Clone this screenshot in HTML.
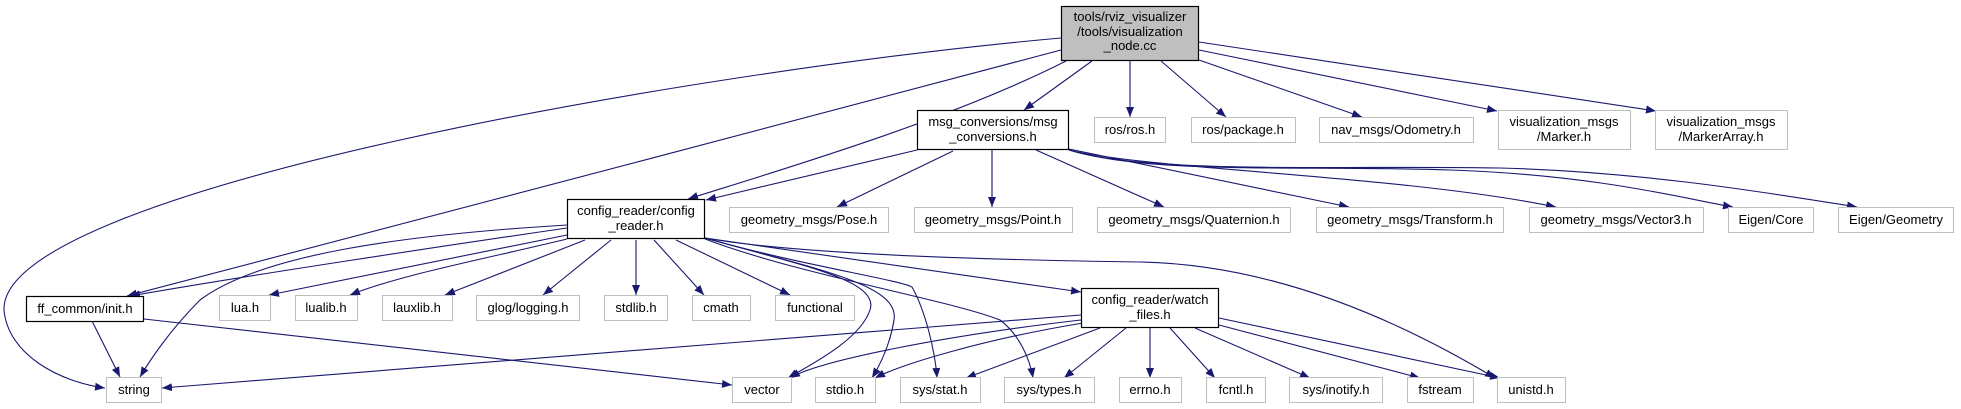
<!DOCTYPE html>
<html><head><meta charset="utf-8"><style>
html,body{margin:0;padding:0;background:#fff;width:1961px;height:409px;overflow:hidden}
svg{display:block}
text{font-family:"Liberation Sans",Arial,sans-serif;font-size:13px;fill:#000}
.e{fill:none;stroke:#191970;stroke-width:1.1}
.n{fill:#fff;stroke:#000;stroke-width:1.2}
.g{fill:#fff;stroke:#bfbfbf;stroke-width:1}
</style></head><body>
<svg width="1961" height="409" viewBox="0 0 1961 409" xmlns="http://www.w3.org/2000/svg">
<defs><marker id="a" viewBox="0 0 10 8" refX="10" refY="4" markerWidth="10" markerHeight="8" markerUnits="userSpaceOnUse" orient="auto"><path d="M0,0 L10,4 L0,8 z" fill="#191970"/></marker></defs>
<g marker-end="url(#a)">
<!-- root edges -->
<path class="e" d="M1061,38 C700,70 0,190 4,310 C8,355 60,382 105,388"/>
<path class="e" d="M1061,50 C800,120 300,250 127,296"/>
<path class="e" d="M1066,61 C950,120 780,170 688,199"/>
<path class="e" d="M1092,61 L1024,110"/>
<path class="e" d="M1130,61 L1130,117"/>
<path class="e" d="M1161,61 L1226,117"/>
<path class="e" d="M1199,60 L1362,117"/>
<path class="e" d="M1199,50 L1497,111"/>
<path class="e" d="M1199,42 L1656,111"/>
<!-- msg_conversions -->
<path class="e" d="M917,150 L706,200"/>
<path class="e" d="M953,151 L837,207"/>
<path class="e" d="M992,150 L992,207"/>
<path class="e" d="M1036,150 L1164,207"/>
<path class="e" d="M1069,149 L1349,207"/>
<path class="e" d="M1069,150 C1150,170 1400,175 1556,207"/>
<path class="e" d="M1069,150 C1150,175 1300,165 1450,170 C1600,175 1690,200 1733,207"/>
<path class="e" d="M1069,150 C1150,175 1350,165 1500,168 C1650,172 1780,195 1857,207"/>
<!-- config_reader -->
<path class="e" d="M567,228 C450,245 250,275 130,296"/>
<path class="e" d="M567,225 C400,235 260,255 200,300 C170,330 150,360 140,377"/>
<path class="e" d="M567,235 L269,295"/>
<path class="e" d="M567,239 C480,260 400,275 350,295"/>
<path class="e" d="M585,240 L445,295"/>
<path class="e" d="M611,240 L543,295"/>
<path class="e" d="M636,240 L636,295"/>
<path class="e" d="M654,240 L704,295"/>
<path class="e" d="M676,240 L790,295"/>
<path class="e" d="M705,238 C800,265 880,280 870,310 C860,340 810,365 788,378"/>
<path class="e" d="M705,238 C820,270 900,285 894,320 C890,345 880,365 872,378"/>
<path class="e" d="M705,238 C800,265 900,280 912,287 C925,310 935,350 937,378"/>
<path class="e" d="M705,239 C800,275 950,300 1000,320 C1020,335 1030,360 1033,378"/>
<path class="e" d="M705,238 L1081,292"/>
<path class="e" d="M705,238 C800,255 1000,260 1140,262 C1300,265 1440,345 1495,378"/>
<!-- watch_files -->
<path class="e" d="M1081,315 L162,388"/>
<path class="e" d="M1081,320 C950,335 820,360 790,378"/>
<path class="e" d="M1083,323 C980,340 900,365 875,378"/>
<path class="e" d="M1100,328 L966,378"/>
<path class="e" d="M1126,328 L1064,378"/>
<path class="e" d="M1150,328 L1150,378"/>
<path class="e" d="M1170,328 L1215,378"/>
<path class="e" d="M1195,328 L1310,378"/>
<path class="e" d="M1219,325 L1420,378"/>
<path class="e" d="M1219,318 L1500,378"/>
<!-- ff_common -->
<path class="e" d="M92,321 L120,377"/>
<path class="e" d="M144,319 L732,385"/>
</g>
<!-- nodes -->
<rect x="1061.5" y="6.5" width="137" height="54" fill="#bfbfbf" stroke="#000" stroke-width="1.2"/>
<text x="1130" y="21" text-anchor="middle">tools/rviz_visualizer</text>
<text x="1130" y="36" text-anchor="middle">/tools/visualization</text>
<text x="1130" y="50" text-anchor="middle">_node.cc</text>

<rect class="n" x="917.5" y="110.5" width="151" height="39"/>
<text x="993" y="126" text-anchor="middle">msg_conversions/msg</text>
<text x="993" y="141" text-anchor="middle">_conversions.h</text>

<rect class="g" x="1094.5" y="117.5" width="71" height="25"/><text x="1130" y="134" text-anchor="middle">ros/ros.h</text>
<rect class="g" x="1191.5" y="117.5" width="104" height="25"/><text x="1243" y="134" text-anchor="middle">ros/package.h</text>
<rect class="g" x="1319.5" y="117.5" width="154" height="25"/><text x="1396" y="134" text-anchor="middle">nav_msgs/Odometry.h</text>
<rect class="g" x="1498.5" y="110.5" width="132" height="39"/><text x="1564" y="126" text-anchor="middle">visualization_msgs</text><text x="1564" y="141" text-anchor="middle">/Marker.h</text>
<rect class="g" x="1655.5" y="110.5" width="132" height="39"/><text x="1721" y="126" text-anchor="middle">visualization_msgs</text><text x="1721" y="141" text-anchor="middle">/MarkerArray.h</text>

<rect class="n" x="567.5" y="199.5" width="137" height="39"/>
<text x="636" y="215" text-anchor="middle">config_reader/config</text>
<text x="636" y="230" text-anchor="middle">_reader.h</text>

<rect class="g" x="729.5" y="207.5" width="159" height="25"/><text x="809" y="224" text-anchor="middle">geometry_msgs/Pose.h</text>
<rect class="g" x="914.5" y="207.5" width="158" height="25"/><text x="993" y="224" text-anchor="middle">geometry_msgs/Point.h</text>
<rect class="g" x="1097.5" y="207.5" width="193" height="25"/><text x="1194" y="224" text-anchor="middle">geometry_msgs/Quaternion.h</text>
<rect class="g" x="1316.5" y="207.5" width="187" height="25"/><text x="1410" y="224" text-anchor="middle">geometry_msgs/Transform.h</text>
<rect class="g" x="1529.5" y="207.5" width="174" height="25"/><text x="1616" y="224" text-anchor="middle">geometry_msgs/Vector3.h</text>
<rect class="g" x="1728.5" y="207.5" width="85" height="25"/><text x="1771" y="224" text-anchor="middle">Eigen/Core</text>
<rect class="g" x="1838.5" y="207.5" width="115" height="25"/><text x="1896" y="224" text-anchor="middle">Eigen/Geometry</text>

<rect class="n" x="26.5" y="296.5" width="117" height="25"/><text x="85" y="313" text-anchor="middle">ff_common/init.h</text>
<rect class="g" x="219.5" y="295.5" width="51" height="25"/><text x="245" y="312" text-anchor="middle">lua.h</text>
<rect class="g" x="295.5" y="295.5" width="62" height="25"/><text x="326" y="312" text-anchor="middle">lualib.h</text>
<rect class="g" x="382.5" y="295.5" width="70" height="25"/><text x="417" y="312" text-anchor="middle">lauxlib.h</text>
<rect class="g" x="476.5" y="295.5" width="103" height="25"/><text x="528" y="312" text-anchor="middle">glog/logging.h</text>
<rect class="g" x="604.5" y="295.5" width="63" height="25"/><text x="636" y="312" text-anchor="middle">stdlib.h</text>
<rect class="g" x="692.5" y="295.5" width="58" height="25"/><text x="721" y="312" text-anchor="middle">cmath</text>
<rect class="g" x="775.5" y="295.5" width="79" height="25"/><text x="815" y="312" text-anchor="middle">functional</text>

<rect class="n" x="1081.5" y="288.5" width="137" height="39"/>
<text x="1150" y="304" text-anchor="middle">config_reader/watch</text>
<text x="1150" y="319" text-anchor="middle">_files.h</text>

<rect class="g" x="106.5" y="377.5" width="55" height="25"/><text x="134" y="394" text-anchor="middle">string</text>
<rect class="g" x="732.5" y="377.5" width="59" height="25"/><text x="762" y="394" text-anchor="middle">vector</text>
<rect class="g" x="815.5" y="377.5" width="60" height="25"/><text x="845" y="394" text-anchor="middle">stdio.h</text>
<rect class="g" x="900.5" y="377.5" width="80" height="25"/><text x="940" y="394" text-anchor="middle">sys/stat.h</text>
<rect class="g" x="1004.5" y="377.5" width="90" height="25"/><text x="1049" y="394" text-anchor="middle">sys/types.h</text>
<rect class="g" x="1119.5" y="377.5" width="62" height="25"/><text x="1150" y="394" text-anchor="middle">errno.h</text>
<rect class="g" x="1206.5" y="377.5" width="59" height="25"/><text x="1236" y="394" text-anchor="middle">fcntl.h</text>
<rect class="g" x="1289.5" y="377.5" width="93" height="25"/><text x="1336" y="394" text-anchor="middle">sys/inotify.h</text>
<rect class="g" x="1407.5" y="377.5" width="66" height="25"/><text x="1440" y="394" text-anchor="middle">fstream</text>
<rect class="g" x="1497.5" y="377.5" width="68" height="25"/><text x="1531" y="394" text-anchor="middle">unistd.h</text>
</svg>
</body></html>
